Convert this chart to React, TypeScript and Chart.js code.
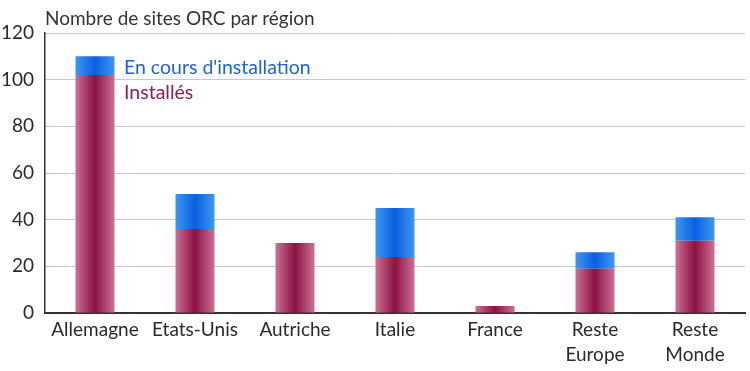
import React, { useEffect, useRef } from "react";
import { Chart, registerables } from "chart.js";

Chart.register(...registerables);

const categories: (string | string[])[] = [
  "Allemagne",
  "Etats-Unis",
  "Autriche",
  "Italie",
  "France",
  ["Reste", "Europe"],
  ["Reste", "Monde"],
];
const installes = [102, 36, 30, 24, 3, 19, 31];
const enCours = [8, 15, 0, 21, 0, 7, 10];
const yTicks = [0, 20, 40, 60, 80, 100, 120];

const TITLE = "Nombre de sites ORC par région";
const LEGEND_EN_COURS = "En cours d'installation";
const LEGEND_INSTALLES = "Installés";

const BAR_PCT = 0.39;

function gradientFor(edge: string, mid: string) {
  return (ctx: any) => {
    const chart = ctx.chart;
    const area = chart.chartArea;
    const xs = chart.scales && chart.scales.x;
    if (!area || !xs || ctx.type !== "data") return mid;
    const x = xs.getPixelForValue(ctx.dataIndex);
    const half = ((xs.right - xs.left) / categories.length) * BAR_PCT / 2;
    const g = chart.ctx.createLinearGradient(x - half, 0, x + half, 0);
    g.addColorStop(0, edge);
    g.addColorStop(0.5, mid);
    g.addColorStop(1, edge);
    return g;
  };
}

const textPlugin = {
  id: "textPlugin",
  afterDraw(chart: any) {
    const { ctx, chartArea } = chart;
    ctx.save();
    ctx.textBaseline = "middle";
    ctx.textAlign = "left";
    ctx.font = "19px Lato";
    ctx.fillStyle = "#333333";
    ctx.fillText(TITLE, chartArea.left, 19);
    ctx.font = "19.5px Lato";
    ctx.fillStyle = "#1f62d6";
    ctx.fillText(LEGEND_EN_COURS, chartArea.left + 79, 68);
    ctx.fillStyle = "#8c1f4f";
    ctx.fillText(LEGEND_INSTALLES, chartArea.left + 79, 93);
    ctx.restore();
  },
};

export default function App() {
  const ref = useRef<HTMLCanvasElement | null>(null);
  useEffect(() => {
    document.body.style.margin = "0";
    if (!ref.current) return;
    const chart = new Chart(ref.current, {
      type: "bar",
      data: {
        labels: categories as any,
        datasets: [
          {
            label: LEGEND_INSTALLES,
            data: installes,
            backgroundColor: gradientFor("#cc7096", "#8a1244") as any,
            borderWidth: 0,
            barPercentage: BAR_PCT,
            categoryPercentage: 1,
          },
          {
            label: LEGEND_EN_COURS,
            data: enCours,
            backgroundColor: gradientFor("#3e98f2", "#0a5fe0") as any,
            borderWidth: 0,
            barPercentage: BAR_PCT,
            categoryPercentage: 1,
          },
        ],
      },
      options: {
        animation: false,
        responsive: false,
        layout: { padding: { top: 33, right: 5, left: 0, bottom: 0 } },
        plugins: {
          legend: { display: false },
          tooltip: { enabled: false },
          title: { display: false },
        },
        scales: {
          x: {
            stacked: true,
            grid: { display: false },
            border: { color: "#333333", width: 2 },
            ticks: {
              color: "#2a2a2a",
              font: { family: "Lato", size: 19, lineHeight: 1.3 },
              padding: -3,
              maxRotation: 0,
              autoSkip: false,
            },
            afterFit: (s: any) => {
              s.height = 58;
            },
          },
          y: {
            stacked: true,
            min: 0,
            max: 120,
            afterBuildTicks: (s: any) => {
              s.ticks = yTicks.map((v) => ({ value: v }));
            },
            grid: { color: "#c8c8c8", lineWidth: 1, drawTicks: false },
            border: { color: "#333333", width: 1.5 },
            ticks: {
              color: "#2a2a2a",
              font: { family: "Lato", size: 19 },
              padding: 11,
            },
            afterFit: (s: any) => {
              s.width = 45;
            },
          },
        },
      },
      plugins: [textPlugin],
    });
    return () => chart.destroy();
  }, []);
  return (
    <div style={{ position: "absolute", left: 0, top: 0, width: 750, height: 371 }}>
      <canvas ref={ref} width={750} height={371} />
    </div>
  );
}
